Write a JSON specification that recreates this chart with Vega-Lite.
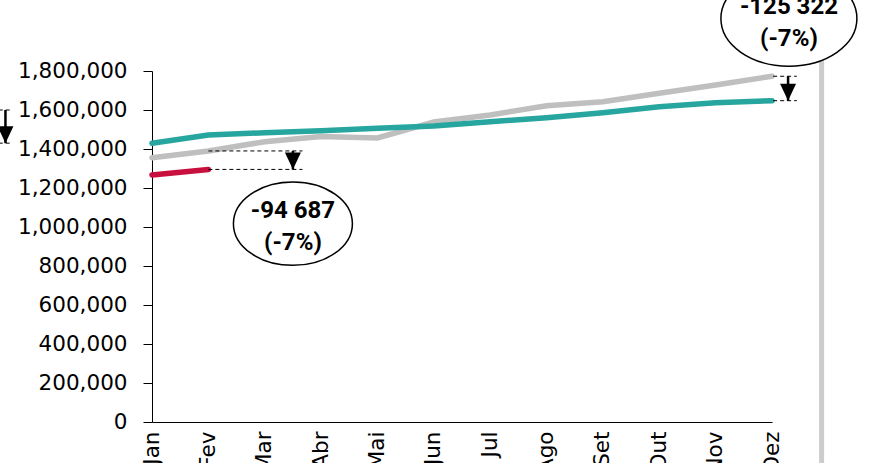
{
  "$schema": "https://vega.github.io/schema/vega-lite/v6.json",
  "width": 620,
  "height": 351,
  "autosize": {"type": "none"},
  "padding": {"left": 152, "top": 71, "right": 97, "bottom": 41},
  "background": "white",
  "config": {"view": {"stroke": null}, "axis": {"grid": false}},
  "datasets": {
    "lines": [
      {"month": 1, "value": 1355400, "series": "Orçamento"},
      {"month": 2, "value": 1390000, "series": "Orçamento"},
      {"month": 3, "value": 1437400, "series": "Orçamento"},
      {"month": 4, "value": 1464100, "series": "Orçamento"},
      {"month": 5, "value": 1456400, "series": "Orçamento"},
      {"month": 6, "value": 1538500, "series": "Orçamento"},
      {"month": 7, "value": 1574400, "series": "Orçamento"},
      {"month": 8, "value": 1622100, "series": "Orçamento"},
      {"month": 9, "value": 1642600, "series": "Orçamento"},
      {"month": 10, "value": 1685600, "series": "Orçamento"},
      {"month": 11, "value": 1728200, "series": "Orçamento"},
      {"month": 12, "value": 1773022, "series": "Orçamento"},
      {"month": 1, "value": 1429200, "series": "Previsão"},
      {"month": 2, "value": 1471800, "series": "Previsão"},
      {"month": 3, "value": 1483600, "series": "Previsão"},
      {"month": 4, "value": 1493800, "series": "Previsão"},
      {"month": 5, "value": 1506200, "series": "Previsão"},
      {"month": 6, "value": 1517900, "series": "Previsão"},
      {"month": 7, "value": 1540000, "series": "Previsão"},
      {"month": 8, "value": 1560500, "series": "Previsão"},
      {"month": 9, "value": 1586200, "series": "Previsão"},
      {"month": 10, "value": 1617000, "series": "Previsão"},
      {"month": 11, "value": 1637400, "series": "Previsão"},
      {"month": 12, "value": 1647700, "series": "Previsão"},
      {"month": 1, "value": 1266700, "series": "Real"},
      {"month": 2, "value": 1295313, "series": "Real"}
    ],
    "guides": [
      {"month": 2, "month2": 3.67, "value": 1390000},
      {"month": 2, "month2": 3.67, "value": 1295313},
      {"month": 12.02, "month2": 12.44, "value": 1773022},
      {"month": 12.02, "month2": 12.44, "value": 1647700},
      {"month": -1.72, "month2": -1.5, "value": 1600000},
      {"month": -1.72, "month2": -1.5, "value": 1430000}
    ],
    "arrows": [
      {"month": 3.5, "value": 1295313, "value2": 1390000},
      {"month": 12.285, "value": 1647700, "value2": 1773022},
      {"month": -1.6, "value": 1430000, "value2": 1600000}
    ],
    "bubbles": [
      {"id": "fev", "month": 3.5, "value": 1017000},
      {"id": "dez", "month": 12.3, "value": 2069000}
    ],
    "labels": [
      {"month": 3.5, "value": 1083600, "label": "-94 687"},
      {"month": 3.5, "value": 918000, "label": "(-7%)"},
      {"month": 12.3, "value": 2129700, "label": "-125 322"},
      {"month": 12.3, "value": 1964100, "label": "(-7%)"}
    ],
    "bar": [
      {"month": 12.88, "value": -330000, "value2": 2000000}
    ]
  },
  "encoding": {
    "x": {
      "field": "month",
      "type": "quantitative",
      "scale": {"domain": [1, 12], "nice": false, "zero": false},
      "axis": {
        "title": null,
        "values": [1, 2, 3, 4, 5, 6, 7, 8, 9, 10, 11, 12],
        "labelExpr": "['Jan','Fev','Mar','Abr','Mai','Jun','Jul','Ago','Set','Out','Nov','Dez'][datum.value - 1]",
        "ticks": false,
        "labelAngle": 270,
        "labelPadding": 9,
        "labelFont": "DejaVu Sans",
        "labelFontSize": 21.5,
        "labelColor": "black",
        "domainColor": "black",
        "domainWidth": 1,
        "labelOverlap": false,
        "labelBound": false,
        "labelFlush": false
      }
    },
    "y": {
      "field": "value",
      "type": "quantitative",
      "scale": {"domain": [0, 1800000], "nice": false},
      "axis": {
        "title": null,
        "values": [0, 200000, 400000, 600000, 800000, 1000000, 1200000, 1400000, 1600000, 1800000],
        "format": ",d",
        "labelFont": "DejaVu Sans",
        "labelFontSize": 21.5,
        "labelColor": "black",
        "labelPadding": 16,
        "tickSize": 9,
        "tickColor": "black",
        "domainColor": "black",
        "domainWidth": 1,
        "labelOverlap": false
      }
    }
  },
  "layer": [
    {
      "data": {"name": "bar"},
      "mark": {"type": "rule", "color": "#cccccc", "strokeWidth": 5},
      "encoding": {"y2": {"field": "value2"}}
    },
    {
      "data": {"name": "lines"},
      "transform": [{"filter": "datum.series === 'Orçamento'"}],
      "mark": {"type": "line", "color": "#bfbfbf", "strokeWidth": 5.5, "strokeCap": "round"},
      "encoding": {}
    },
    {
      "data": {"name": "lines"},
      "transform": [{"filter": "datum.series === 'Previsão'"}],
      "mark": {"type": "line", "color": "#26a69e", "strokeWidth": 5.5, "strokeCap": "round"},
      "encoding": {}
    },
    {
      "data": {"name": "lines"},
      "transform": [{"filter": "datum.series === 'Real'"}],
      "mark": {"type": "line", "color": "#c8103f", "strokeWidth": 5.5, "strokeCap": "round"},
      "encoding": {}
    },
    {
      "data": {"name": "guides"},
      "mark": {"type": "rule", "color": "black", "strokeWidth": 1, "strokeDash": [4, 3]},
      "encoding": {"x2": {"field": "month2"}}
    },
    {
      "data": {"name": "arrows"},
      "mark": {"type": "rule", "color": "black", "strokeWidth": 2.5},
      "encoding": {"y2": {"field": "value2"}}
    },
    {
      "data": {"name": "arrows"},
      "mark": {"type": "point", "shape": "M -0.94 -2 L 0.94 -2 L 0 0 Z", "filled": true, "color": "black", "size": 289, "opacity": 1, "strokeWidth": 0}
    },
    {
      "data": {"name": "bubbles"},
      "transform": [{"filter": "datum.id === 'fev'"}],
      "mark": {"type": "point", "shape": "M -1 0 C -1 -0.39 -0.552 -0.7 0 -0.7 C 0.552 -0.7 1 -0.39 1 0 C 1 0.39 0.552 0.7 0 0.7 C -0.552 0.7 -1 0.39 -1 0 Z", "filled": true, "fill": "white", "stroke": "black", "strokeWidth": 1.5, "size": 14161, "opacity": 1}
    },
    {
      "data": {"name": "bubbles"},
      "transform": [{"filter": "datum.id === 'dez'"}],
      "mark": {"type": "point", "shape": "M -1 0 C -1 -0.39 -0.552 -0.7 0 -0.7 C 0.552 -0.7 1 -0.39 1 0 C 1 0.39 0.552 0.7 0 0.7 C -0.552 0.7 -1 0.39 -1 0 Z", "filled": true, "fill": "white", "stroke": "black", "strokeWidth": 1.5, "size": 18496, "opacity": 1}
    },
    {
      "data": {"name": "labels"},
      "mark": {"type": "text", "font": "Roboto", "fontWeight": "bold", "fontSize": 24, "color": "black", "align": "center", "baseline": "middle"},
      "encoding": {"text": {"field": "label"}}
    }
  ]
}
